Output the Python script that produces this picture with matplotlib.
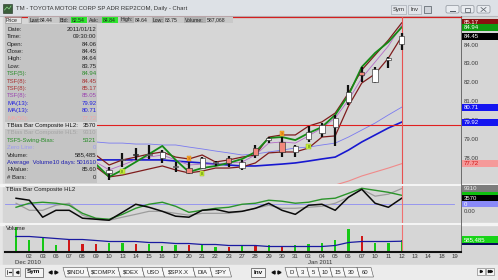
import numpy as np
import matplotlib.pyplot as plt
from matplotlib.patches import Rectangle, Polygon, FancyBboxPatch
from matplotlib.transforms import blended_transform_factory

plt.rcParams['font.family'] = ['Liberation Sans', 'DejaVu Sans']

W, H = 498, 280
FS = 4.3

# ---------------- data ----------------
day_labels = ['01', '02', '03', '06', '07', '08', '09', '10', '13', '14', '15', '16',
              '17', '20', '21', '22', '23', '27', '28', '29', '30', '31',
              '03', '04', '05', '06', '07', '10', '11', '12', '13', '14', '18', '19']

# candles Dec 10 .. Jan 12 (earlier bars sit under the data window)
cdl_start = 7
c_open = [77.23, 77.92, 78.23, 78.18, 78.02, 77.55, 77.49, 77.49, 77.76, 78.02, 77.49, 78.55,
          78.97, 78.87, 78.34, 79.03, 79.34, 79.66, 80.98, 82.57, 82.04, 83.21, 84.06]
c_high = [77.55, 78.29, 78.55, 78.71, 78.44, 77.81, 77.81, 78.07, 77.86, 78.13, 77.92, 78.71,
          79.13, 79.13, 78.71, 79.71, 79.87, 80.30, 81.88, 82.84, 82.84, 83.37, 84.64]
c_low = [76.86, 77.55, 77.92, 77.97, 77.76, 77.28, 77.17, 77.44, 77.60, 77.55, 77.39, 78.02,
         78.81, 78.07, 78.07, 78.87, 79.13, 78.66, 80.83, 82.04, 81.99, 82.78, 83.75]
c_close = [77.39, 77.97, 78.18, 78.23, 78.34, 77.60, 77.23, 78.02, 77.81, 77.76, 77.81, 78.18,
           79.08, 78.34, 78.66, 79.40, 79.77, 80.14, 81.51, 82.41, 82.73, 83.31, 84.45]
c_kind = ['w', 'w', 'k', 'w', 'w', 'w', 's', 'w', 'w', 's', 'w', 's',
          'w', 's', 'w', 'w', 'w', 'w', 'w', 's', 'w', 'w', 'w']
sell_idx = [13, 20]
buy_idx = [8, 14, 22]

# overlay studies, Dec 9 .. Jan 12
line_start = 6
tsf5 = [77.70, 77.02, 77.39, 77.81, 78.23, 78.66, 77.92, 77.28, 77.49, 77.60, 77.76, 77.97,
        78.34, 79.08, 79.13, 78.97, 79.34, 79.66, 80.30, 81.35, 82.84, 83.58, 84.16, 84.94]
tsf8_hi = [78.18, 77.65, 77.92, 78.07, 78.23, 78.34, 78.07, 77.97, 78.18, 77.81, 77.92, 78.07,
           78.18, 79.13, 79.24, 79.24, 79.71, 79.93, 80.40, 81.46, 82.68, 83.47, 84.26, 85.17]
tsf8_mid = [77.81, 77.39, 77.65, 77.92, 78.07, 78.18, 77.92, 77.65, 77.70, 77.70, 77.76, 77.81,
            78.18, 78.81, 78.87, 78.81, 79.19, 79.61, 80.14, 81.09, 82.25, 83.10, 83.95, 85.05]
tsf8_lo = [77.55, 77.02, 77.12, 77.28, 77.44, 77.60, 77.39, 77.23, 77.33, 77.49, 77.49, 77.55,
           77.76, 78.29, 78.34, 78.34, 78.55, 79.13, 79.19, 80.77, 81.99, 82.47, 83.31, 84.45]
ma13_a = [78.87, 78.81, 78.81, 78.76, 78.76, 78.71, 78.71, 78.60, 78.50, 78.39, 78.29, 78.18,
          78.23, 78.34, 78.44, 78.55, 78.60, 78.71, 78.81, 79.13, 79.50, 79.87, 80.30, 80.71]
ma13_b = [77.92, 77.92, 77.92, 77.92, 77.92, 77.92, 77.86, 77.81, 77.76, 77.70, 77.65, 77.60,
          77.60, 77.65, 77.70, 77.76, 77.86, 77.97, 78.07, 78.44, 78.87, 79.24, 79.61, 79.92]
ma50_start = 23
ma50 = [76.38, 76.59, 76.80, 77.07, 77.28, 77.49, 77.72]
cross_price = 79.77

# TBias panel, Dec 1 .. Jan 12
hl2 = [3570, 2400, -7700, -3600, -3600, -8300, -8900, -9500, -4800, 0, -1800, -4200, -7100,
       -7700, -3600, -3000, -4800, -4200, -2400, 600, -3600, -6000, -600, 0, -3600, 4200,
       8900, 600, -1800, 3570]
hl5 = [600, -3600, -3600, -600, 600, -6500, -8900, -9500, -7700, -6000, -4200, -4200, -5400,
       -6500, -5400, -5400, -5400, -4200, -2400, -600, -2400, -2400, -1800, -1200, 600, 4200,
       8900, 4800, 6000, 9310]
swing = [-1800, 600, 1200, 600, -600, -5400, -8300, -8900, -6000, -2400, 0, 1200, -1200,
         -4800, -3600, -2400, -1800, 0, 600, 2400, 1800, 600, 1200, 3000, 3600, 6500, 9500,
         8300, 7100, 5321]

# volume
vol = [1200000, 585000, 683000, 341000, 585000, 390000, 390000, 439000, 439000, 366000,
       390000, 244000, 293000, 341000, 390000, 220000, 220000, 244000, 244000, 293000,
       244000, 293000, 390000, 439000, 537000, 1122000, 732000, 439000, 439000, 585485]
vol_dir = ['u', 'u', 'u', 'u', 'd', 'd', 'd', 'u', 'u', 'd', 'u', 'u', 'u', 'd', 'u',
           'u', 'd', 'u', 'd', 'u', 'd', 'u', 'u', 'u', 'u', 'u', 'd', 'u', 'u', 'u']
avg_vol = [732000, 732000, 683000, 634000, 585000, 585000, 537000, 488000, 488000, 488000,
           439000, 439000, 390000, 390000, 342000, 342000, 293000, 293000, 293000, 244000,
           244000, 244000, 244000, 244000, 293000, 439000, 488000, 488000, 488000, 501610]

data_rows = [('Date:', '2011/01/12', '#202020'), ('Time:', '09:30:00', '#202020'),
             ('Open:', '84.06', '#202020'), ('Close:', '84.45', '#202020'),
             ('High:', '84.64', '#202020'), ('Low:', '83.75', '#202020'),
             ('TSF(5):', '84.94', '#2a8c2a'), ('TSF(8):', '84.45', '#a83232'),
             ('TSF(8):', '85.17', '#a83232'), ('TSF(8):', '85.05', '#9b45b0'),
             ('MA(13):', '79.92', '#2020e0'), ('MA(13):', '80.71', '#2020e0'),
             ('MA(50):', '77.72', '#f2a6a6'),
             ('TBias Bar Composite HL2:', '3570', '#101010'),
             ('TBias Bar Composite HL5:', '9310', '#a4a4a4'),
             ('TSF5-Swing-Bias:', '5321', '#2a8c2a'), ('Zero Line:', '0', '#9a9af0'),
             ('Volume:', '585,485', '#202020'),
             ('Average  Volume10 days:', '501610', '#2020b0'),
             ('HValue:', '85.60', '#202020'), ('# Bars:', '0', '#202020')]

header = [('Last:', 29, 39, 'lab'), ('84.44', 39, 58, 'val'), ('Bid:', 59, 71, 'lab'),
          ('82.54', 71, 87, 'hi'), ('Ask:', 88, 102, 'lab'), ('84.84', 102, 118, 'hi'),
          ('High:', 120, 134, 'lab'), ('84.64', 134, 151, 'val'), ('Low:', 152, 164, 'lab'),
          ('83.75', 164, 181, 'val'), ('Volume:', 184, 206, 'lab'), ('587,068', 206, 233, 'val')]

tabs_left = ['$INDU', '$COMPX', '$OEX', 'USO', '$SPX.X', 'DIA', 'SPY']
tabs_left_x = [63, 87, 118, 142, 162, 193, 210, 229]
tabs_right = ['D', '3', '5', '10', '15', '30', '60']
tabs_right_x = [285, 296, 307, 318, 330, 343, 357, 371]

# ---------------- figure ----------------
fig = plt.figure(figsize=(W / 100, H / 100), dpi=100)
fig.patch.set_facecolor('#e6e6e6')


def px_axes(x0, y0, x1, y1, z):
    return fig.add_axes([x0 / W, 1 - y1 / H, (x1 - x0) / W, (y1 - y0) / H], zorder=z)


ch = px_axes(0, 0, W, H, 0)
ch.set_xlim(0, W)
ch.set_ylim(H, 0)
ch.axis('off')

# window chrome
ch.add_patch(Rectangle((0, 0), W, 16, color='#dde1e6'))
ch.plot([0, W], [15.6, 15.6], color='#a9adb3', lw=0.5)
ch.add_patch(Rectangle((3, 4), 9, 9, facecolor='#3b5e3b', edgecolor='#1e2e1e', lw=0.4))
ch.plot([4.5, 7, 9, 11], [10, 7, 9, 6], color='#8fe08f', lw=0.5)
ch.text(16, 8.6, 'TM - TOYOTA MOTOR CORP SP ADR REP2COM, Daily - Chart', fontsize=FS,
        color='#333333', va='center')
for lab, x0, x1 in [('Sym', 391, 406), ('Inv', 408, 421)]:
    ch.add_patch(Rectangle((x0, 5), x1 - x0, 8.5, facecolor='#e2e5ea', edgecolor='#9aa0a8', lw=0.4))
    ch.text((x0 + x1) / 2, 9.3, lab, fontsize=FS, ha='center', va='center', color='#303030')
ch.add_patch(Rectangle((424, 6), 7, 6.5, facecolor='#d0d4da', edgecolor='#505860', lw=0.5))
for x0 in [446, 461, 477]:
    ch.add_patch(FancyBboxPatch((x0, 5.5), 13, 7.5, boxstyle='round,pad=0,rounding_size=1.5',
                                facecolor='#e9ecf0', edgecolor='#8c929a', lw=0.5))
ch.plot([450, 455], [10.5, 10.5], color='#505860', lw=0.7)
ch.add_patch(Rectangle((465, 7.5), 5, 4, fill=False, edgecolor='#505860', lw=0.5))
ch.plot([481, 486], [7.5, 11.5], color='#505860', lw=0.5)
ch.plot([481, 486], [11.5, 7.5], color='#505860', lw=0.5)

# chart area background, separators, tab bar
ch.add_patch(Rectangle((3, 16), 494, 249, color='#d6d6d6'))
ch.add_patch(Rectangle((0, 183.5), W, 2.5, color='#f4f4f4'))
ch.add_patch(Rectangle((0, 222.6), W, 2.4, color='#f4f4f4'))
ch.add_patch(Rectangle((0, 265), W, 15, color='#ececec'))
ch.plot([461, 461], [16, 252], color='#5a5a5a', lw=0.6)

xmin, xmax = -0.83, 33.46

# ---------------- price panel ----------------
ax = px_axes(5, 16.5, 461, 183.5, 2)
ax.set_facecolor('#d6d6d6')
ax.set_xlim(xmin, xmax)
ax.set_ylim(76.672, 85.508)
ax.set_xticks([])
ax.set_yticks([])
for s in ['left', 'right', 'bottom']:
    ax.spines[s].set_visible(False)
ax.spines['top'].set_color('#d42020')
ax.spines['top'].set_linewidth(0.9)

lx = np.arange(line_start, line_start + len(tsf5))
ax.plot(np.arange(ma50_start, ma50_start + len(ma50)), ma50, color='#f08a8a', lw=0.8)
ax.plot(lx, ma13_a, color='#7a7af0', lw=0.6)
ax.plot(lx, ma13_b, color='#1818d0', lw=1.2)
ax.plot(lx, tsf8_mid, color='#b46ac8', lw=0.6)
ax.plot(lx, tsf8_lo, color='#7e1c1c', lw=0.9)
ax.plot(lx, tsf8_hi, color='#7e1c1c', lw=0.9)
ax.plot(lx, tsf5, color='#158a15', lw=1.3)
ax.axhline(cross_price, color='#e02020', lw=0.8, zorder=3)
ax.axvline(29, color='#e85050', lw=0.8, zorder=3)

faces = {'w': 'white', 's': '#f2877c', 'k': '#111111'}
for k in range(len(c_open)):
    i = cdl_start + k
    o, hi, lo, c = c_open[k], c_high[k], c_low[k], c_close[k]
    ax.plot([i, i], [lo, hi], color='#101010', lw=1.6, solid_capstyle='butt', zorder=4)
    b0, b1 = min(o, c), max(o, c)
    ax.add_patch(Rectangle((i - 0.2, b0), 0.4, max(b1 - b0, 0.05), facecolor=faces[c_kind[k]],
                           edgecolor='#303030', lw=0.45, zorder=5))
for i in sell_idx:
    hi = c_high[i - cdl_start]
    ax.add_patch(Rectangle((i - 0.17, hi + 0.03), 0.34, 0.27, facecolor='#ffad2a',
                           edgecolor='#d08010', lw=0.3, zorder=6))
    ax.text(i, hi + 0.165, 'S', fontsize=2.6, ha='center', va='center', color='#a04000', zorder=7)
for i in buy_idx:
    lo = c_low[i - cdl_start]
    ax.add_patch(Rectangle((i - 0.17, lo - 0.38), 0.34, 0.27, facecolor='#c8f03a',
                           edgecolor='#90b020', lw=0.3, zorder=6))
    ax.text(i, lo - 0.245, 'B', fontsize=2.6, ha='center', va='center', color='#407000', zorder=7)


def side_label(a, y, txt, bg, fg, h, z):
    tr = blended_transform_factory(a.transAxes, a.transData)
    if bg is not None:
        a.add_patch(Rectangle((1 + 1.2 / 456, y - h / 2), 35.5 / 456, h, transform=tr,
                              facecolor=bg, edgecolor='none', clip_on=False, zorder=z))
    if txt:
        a.text(1 + 2.5 / 456, y, txt, transform=tr, fontsize=FS, color=fg, va='center',
               ha='left', clip_on=False, zorder=z + 0.5)


for p in [84, 83, 82, 81, 80, 79, 78]:
    side_label(ax, p, '%.2f' % p, None, '#3a3a3a', 0, 5)
ph = 0.37
side_label(ax, tsf8_hi[-1], '%.2f' % tsf8_hi[-1], '#8a1010', 'white', ph, 10)
side_label(ax, tsf5[-1], '%.2f' % tsf5[-1], '#109a10', 'white', ph, 11)
side_label(ax, c_close[-1], '%.2f' % c_close[-1], '#000000', 'white', ph, 12)
side_label(ax, ma13_a[-1], '%.2f' % ma13_a[-1], '#1414f0', 'white', ph, 13)
side_label(ax, ma13_b[-1], '%.2f' % ma13_b[-1], '#1414f0', 'white', ph, 14)
side_label(ax, ma50[-1], '%.2f' % ma50[-1], '#f59a9a', '#d01010', ph, 15)

# ---------------- TBias panel ----------------
idx_all = np.arange(len(hl2))
ax2 = px_axes(5, 186, 461, 222.5, 2)
ax2.set_facecolor('#d6d6d6')
ax2.set_xlim(xmin, xmax)
ax2.set_ylim(-10850, 10850)
ax2.set_xticks([])
ax2.set_yticks([])
for s in ax2.spines.values():
    s.set_visible(False)
ax2.plot([xmin, 32.9], [0, 0], color='#8c8cf2', lw=0.6)
ax2.plot(idx_all, hl5, color='#9c9c9c', lw=0.9)
ax2.plot(idx_all, swing, color='#2a942a', lw=1.0)
ax2.plot(idx_all, hl2, color='#0a0a0a', lw=1.1)
ax2.axvline(29, color='#f07070', lw=0.8)
ax2.text(0.003, 0.9, 'TBias Bar Composite HL2', transform=ax2.transAxes, fontsize=FS,
         color='#202020', va='center')
ih = 7 * 594
side_label(ax2, hl5[-1], str(hl5[-1]), '#7c7c7c', '#f0f0f0', ih, 10)
side_label(ax2, swing[-1], '', '#10c010', 'white', ih, 9)
side_label(ax2, hl2[-1], str(hl2[-1]), '#000000', 'white', ih, 11)
side_label(ax2, 0, '0', '#8a8af8', 'white', ih * 0.85, 12)
side_label(ax2, -4200, '0.00', None, '#3a3a3a', 0, 12)

# ---------------- volume panel ----------------
ax3 = px_axes(5, 225, 461, 251.5, 2)
ax3.set_facecolor('#d6d6d6')
ax3.set_xlim(xmin, xmax)
ax3.set_ylim(0, 1293000)
for s in ['left', 'right', 'top']:
    ax3.spines[s].set_visible(False)
ax3.spines['bottom'].set_color('#111111')
ax3.spines['bottom'].set_linewidth(1.5)
ax3.bar(idx_all, vol, width=0.17, color=['#16c816' if d == 'u' else '#d01818' for d in vol_dir])
ax3.plot(idx_all, avg_vol, color='#1a1aa0', lw=0.9)
ax3.axvline(29, color='#f07070', lw=0.8)
ax3.text(0.003, 0.87, 'Volume', transform=ax3.transAxes, fontsize=FS, color='#202020', va='center')
ax3.set_yticks([])
ax3.set_xticks(np.arange(1, len(day_labels)))
ax3.set_xticklabels(day_labels[1:], fontsize=FS, color='#353535')
ax3.tick_params(axis='x', length=0, pad=1.6)
vh = 7 * 48790
side_label(ax3, avg_vol[-1], '', '#0c0c5a', 'white', vh, 9)
side_label(ax3, vol[-1], '{:,}'.format(vol[-1]), '#18d418', 'white', vh, 10)

# ---------------- overlay: header, data window, tabs ----------------
ov = px_axes(0, 0, W, H, 10)
ov.set_xlim(0, W)
ov.set_ylim(H, 0)
ov.axis('off')

HF = 3.7
ov.add_patch(Rectangle((5, 16.8), 16, 6.4, facecolor='#e4e4e4', edgecolor='#8a8a8a', lw=0.4))
ov.text(6, 20, 'Price', fontsize=HF, va='center', color='#202020')
ov.add_patch(Rectangle((28, 16.8), 205, 6.4, facecolor='#c9c9c9', edgecolor='none'))
for txt, x0, x1, kind in header:
    fc = {'lab': '#afafaf', 'val': '#c9c9c9', 'hi': '#2ee62e'}[kind]
    ov.add_patch(Rectangle((x0, 16.8), x1 - x0, 6.4, facecolor=fc, edgecolor='none'))
    ov.text(x0 + 0.6, 20, txt, fontsize=HF, va='center', color='#202020')

ov.add_patch(Rectangle((5, 24), 92, 158.5, facecolor='#c4c4c4', edgecolor='none'))
ov.add_patch(Rectangle((5, 122), 92, 7.2, facecolor='#dadada', edgecolor='none'))
for r, (lab, val, col) in enumerate(data_rows):
    y = 29.3 + 7.4 * r
    ov.text(7, y, lab, fontsize=FS, color=col, va='center')
    ov.text(96.5, y, val, fontsize=FS, color=col, va='center', ha='right')

ov.text(27.5, 263, 'Dec 2010', fontsize=FS, color='#353535', ha='center', va='center')
ov.text(320, 263, 'Jan 2011', fontsize=FS, color='#353535', ha='center', va='center')

# bottom tab bar
for x0 in [5, 13]:
    ov.add_patch(Rectangle((x0, 268), 7, 7.5, facecolor='#f6f6f6', edgecolor='#707070', lw=0.4))
ov.plot([7.2, 7.2], [269.8, 273.8], color='#202020', lw=0.5)
ov.plot([8.5, 10.5], [271.8, 271.8], color='#202020', lw=0.9)
ov.plot([16.5], [271.8], marker='<', ms=1.8, color='#202020')
for lab, x0, x1 in [('Sym', 25, 43), ('Inv', 251, 265)]:
    ov.add_patch(Rectangle((x0, 267.5), x1 - x0, 9, facecolor='#f4f4f4', edgecolor='#505050', lw=0.5))
    ov.text((x0 + x1) / 2, 272, lab, fontsize=FS + 0.3, ha='center', va='center',
            color='#101010', fontweight='bold')
for xc in [50, 273]:
    ov.plot([xc], [272], marker='<', ms=2.2, color='#101010')
    ov.plot([xc + 6], [272], marker='>', ms=2.2, color='#101010')
for labs, xs in [(tabs_left, tabs_left_x), (tabs_right, tabs_right_x)]:
    for k, lab in enumerate(labs):
        x0, x1 = xs[k], xs[k + 1]
        ov.add_patch(Polygon([(x0, 267.5), (x1, 267.5), (x1 + 2.5, 277), (x0 + 2.5, 277)],
                             closed=True, facecolor='#f7f7f7', edgecolor='#505050', lw=0.4))
        ov.text((x0 + x1) / 2 + 1.2, 272.2, lab, fontsize=FS, ha='center', va='center',
                color='#202020')
for x0, n in [(477, 1), (486, 2)]:
    ov.add_patch(Rectangle((x0, 267.5), 8, 7, facecolor='#f6f6f6', edgecolor='#707070', lw=0.4))
    for m in range(n):
        ov.plot([x0 + 4 + (m - (n - 1) / 2) * 2], [271], marker='>', ms=1.6, color='#101010')

fig.savefig('out.png', dpi=100)
